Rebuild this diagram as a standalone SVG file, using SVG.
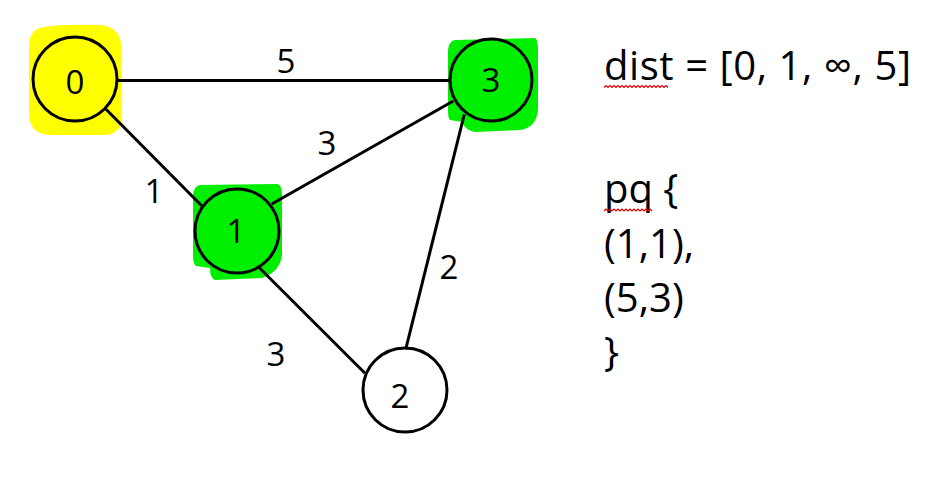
<svg xmlns="http://www.w3.org/2000/svg" width="949" height="480" viewBox="0 0 949 480">
  <style>
    .node { stroke: #000; stroke-width: 3; }
    .nlabel { font-family: "Open Sans", "Liberation Sans", sans-serif; font-size: 33px; fill: #000; text-anchor: middle; }
    .elabel { font-family: "Open Sans", "Liberation Sans", sans-serif; font-size: 33px; fill: #000; text-anchor: middle; }
    .edge { stroke: #000; stroke-width: 3; fill: none; }
    .note { font-family: "Open Sans", "Liberation Sans", sans-serif; font-size: 40px; fill: #000; }
    .squiggle { stroke: #e00000; stroke-width: 1.2; fill: none; }
  </style>
  <rect width="949" height="480" fill="#fff"/>

  <g id="node-0">
    <path d="M45,27 Q60,24 100,25 Q120,27 121,45 L122,118 Q121,134 105,135 L50,135 Q30,134 29,115 L29,45 Q30,28 45,27 Z" fill="#ffff00"/>
    <circle class="node" cx="75" cy="79" r="42" fill="#ffff00"/>
    <text class="nlabel" x="75" y="94">0</text>
  </g>

  <g id="node-3">
    <path d="M455,40 L535,38 Q538,40 538,50 L538,110 Q536,128 520,130 L475,132 Q465,130 462,122 L450,120 Q448,118 448,110 L448,50 Q449,41 455,40 Z" fill="#00ee00"/>
    <circle class="node" cx="491" cy="80" r="41" fill="#00ee00"/>
    <text class="nlabel" x="491" y="92">3</text>
  </g>

  <g id="node-1">
    <path d="M200,185 L278,184 Q282,186 282,195 L282,255 Q280,272 262,278 L215,280 Q210,278 210,268 L196,266 Q193,264 193,255 L193,195 Q194,186 200,185 Z" fill="#00ee00"/>
    <circle class="node" cx="237" cy="231" r="42" fill="#00ee00"/>
    <text class="nlabel" x="236" y="243">1</text>
  </g>

  <g id="node-2">
    <circle class="node" cx="405" cy="390" r="42" fill="#fff"/>
    <text class="nlabel" x="400" y="408">2</text>
  </g>

  <g id="connectors">
    <line class="edge" x1="117" y1="80.5" x2="450" y2="80.5"/>
    <line class="edge" x1="106" y1="109.3" x2="201.7" y2="205.7"/>
    <line class="edge" x1="271.7" y1="204" x2="453.3" y2="101"/>
    <line class="edge" x1="258.3" y1="266.7" x2="365" y2="373.3"/>
    <line class="edge" x1="464.3" y1="114.3" x2="405.7" y2="349.3"/>
    <text class="elabel" x="286" y="73">5</text>
    <text class="elabel" x="154" y="203">1</text>
    <text class="elabel" x="327" y="155">3</text>
    <text class="elabel" x="449" y="279">2</text>
    <text class="elabel" x="276" y="366">3</text>
  </g>

  <g id="notes">
    <text class="note" x="604" y="80" textLength="307" lengthAdjust="spacing">dist = [0, 1, ∞, 5]</text>
    <text class="note" x="604" y="203">pq {</text>
    <text class="note" x="604" y="258">(1,1),</text>
    <text class="note" x="604" y="312">(5,3)</text>
    <text class="note" x="604" y="366">}</text>
    <path class="squiggle" d="M604,87.5 l2,-2 2,2 2,-2 2,2 2,-2 2,2 2,-2 2,2 2,-2 2,2 2,-2 2,2 2,-2 2,2 2,-2 2,2 2,-2 2,2 2,-2 2,2 2,-2 2,2 2,-2 2,2 2,-2 2,2 2,-2 2,2 2,-2 2,2 2,-2 2,2"/>
    <path class="squiggle" d="M604,211 l2,-2 2,2 2,-2 2,2 2,-2 2,2 2,-2 2,2 2,-2 2,2 2,-2 2,2 2,-2 2,2 2,-2 2,2 2,-2 2,2 2,-2 2,2 2,-2 2,2 2,-2 2,2"/>
  </g>
</svg>
